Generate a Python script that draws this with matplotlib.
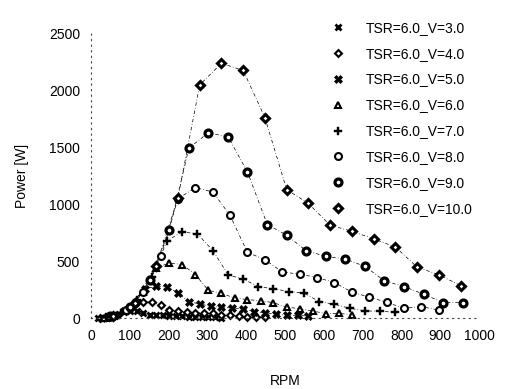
import matplotlib
matplotlib.use('Agg')
import matplotlib.pyplot as plt
from matplotlib.lines import Line2D

plt.rcParams['font.family'] = ['Liberation Sans', 'DejaVu Sans']

# RPM sample points for each wind speed
rpm_v3 = [17, 34, 50, 67, 84, 101, 118, 134, 151, 168, 185, 202, 218, 235, 252, 269, 286, 302, 319, 336]
rpm_v4 = [22, 45, 67, 90, 112, 134, 157, 179, 202, 224, 246, 269, 291, 314, 336, 358, 381, 403, 426, 448]
rpm_v5 = [28, 56, 84, 112, 140, 168, 196, 224, 252, 280, 308, 336, 364, 392, 420, 448, 476, 504, 532, 560]
rpm_v6 = [34, 67, 101, 134, 168, 202, 235, 269, 302, 336, 370, 403, 437, 470, 504, 538, 571, 605, 638, 672]
rpm_v7 = [39, 78, 118, 157, 196, 235, 274, 314, 353, 392, 431, 470, 510, 549, 588, 627, 666, 706, 745, 784]
rpm_v8 = [45, 90, 134, 179, 224, 269, 314, 358, 403, 448, 493, 538, 582, 627, 672, 717, 762, 806, 851, 896]
rpm_v9 = [50, 101, 151, 202, 252, 302, 353, 403, 454, 504, 554, 605, 655, 706, 756, 806, 857, 907, 958]
rpm_v10 = [56, 112, 168, 224, 280, 336, 392, 448, 504, 560, 616, 672, 728, 784, 840, 896, 952]

# Power [W]
p_v3 = [1, 4, 12, 29, 55, 60, 59, 47, 30, 27, 22, 20, 19, 17, 12, 10, 8, 5, 5, 4]
p_v4 = [1, 8, 29, 68, 131, 143, 139, 112, 72, 64, 52, 48, 45, 40, 29, 24, 18, 12, 12, 9]
p_v5 = [3, 16, 58, 132, 256, 279, 272, 220, 141, 125, 101, 94, 88, 78, 56, 47, 35, 23, 23, 17]
p_v6 = [4, 28, 99, 229, 442, 482, 469, 380, 243, 216, 175, 162, 151, 134, 96, 81, 61, 39, 40, 30]
p_v7 = [7, 45, 158, 364, 679, 756, 738, 591, 379, 341, 276, 256, 232, 218, 144, 121, 86, 62, 60, 50]
p_v8 = [10, 67, 232, 541, 1047, 1144, 1105, 900, 576, 511, 403, 385, 355, 311, 227, 183, 138, 85, 100, 70]
p_v9 = [15, 95, 335, 771, 1490, 1625, 1590, 1281, 820, 726, 591, 540, 518, 452, 326, 276, 209, 135, 135]
p_v10 = [20, 130, 460, 1057, 2046, 2234, 2172, 1757, 1126, 1005, 814, 761, 694, 623, 447, 379, 285]

labels = ['TSR=6.0_V=3.0', 'TSR=6.0_V=4.0', 'TSR=6.0_V=5.0', 'TSR=6.0_V=6.0',
          'TSR=6.0_V=7.0', 'TSR=6.0_V=8.0', 'TSR=6.0_V=9.0', 'TSR=6.0_V=10.0']

series = [(rpm_v3, p_v3), (rpm_v4, p_v4), (rpm_v5, p_v5), (rpm_v6, p_v6),
          (rpm_v7, p_v7), (rpm_v8, p_v8), (rpm_v9, p_v9), (rpm_v10, p_v10)]

# one marker style per wind speed
styles = [
    dict(marker='x', markersize=4.5, markeredgewidth=2.0, color='black'),
    dict(marker='D', markersize=3.5, markerfacecolor='white', markeredgewidth=1.5, color='black'),
    dict(marker='X', markersize=5.5, markeredgewidth=0.5, color='black'),
    dict(marker='^', markersize=5, markerfacecolor='white', markeredgewidth=1.5, color='black'),
    dict(marker='P', markersize=5.5, markeredgewidth=0.3, color='black'),
    dict(marker='o', markersize=5, markerfacecolor='white', markeredgewidth=1.5, color='black'),
    dict(marker='o', markersize=5, markerfacecolor='white', markeredgewidth=2.3, color='black'),
    dict(marker='D', markersize=4.3, markerfacecolor='white', markeredgewidth=2.2, color='black'),
]

fig = plt.figure(figsize=(5.06, 3.89), dpi=100)
ax = fig.add_axes([0.180, 0.1825, 0.767, 0.7326])

for (x, y), st in zip(series, styles):
    ax.plot(x, y, linestyle=(0, (5, 3, 1, 3)), linewidth=0.5, color='black', zorder=1)
    ax.plot(x, y, linestyle='none', clip_on=False, zorder=2, **st)

ax.set_xlim(0, 1000)
ax.set_ylim(0, 2500)
ax.set_xticks(range(0, 1001, 100))
ax.set_yticks(range(0, 2501, 500))

for s in ['top', 'right']:
    ax.spines[s].set_visible(False)
for s in ['left', 'bottom']:
    ax.spines[s].set_linestyle((0, (1, 4)))
    ax.spines[s].set_linewidth(0.8)
    ax.spines[s].set_color('#444444')
ax.tick_params(axis='both', labelsize=10, length=0, pad=8)
ax.set_xlabel('RPM', fontsize=10, labelpad=22)
ax.set_ylabel('Power [W]', fontsize=10, labelpad=14)

handles = [Line2D([], [], linestyle='none', **st) for st in styles]
fig.legend(handles, labels, loc='upper left', bbox_to_anchor=(0.655, 0.947),
           frameon=False, fontsize=10, handlelength=1.0, handletextpad=1.5,
           labelspacing=0.86, borderpad=0, borderaxespad=0)

fig.savefig('out.png', dpi=100)
